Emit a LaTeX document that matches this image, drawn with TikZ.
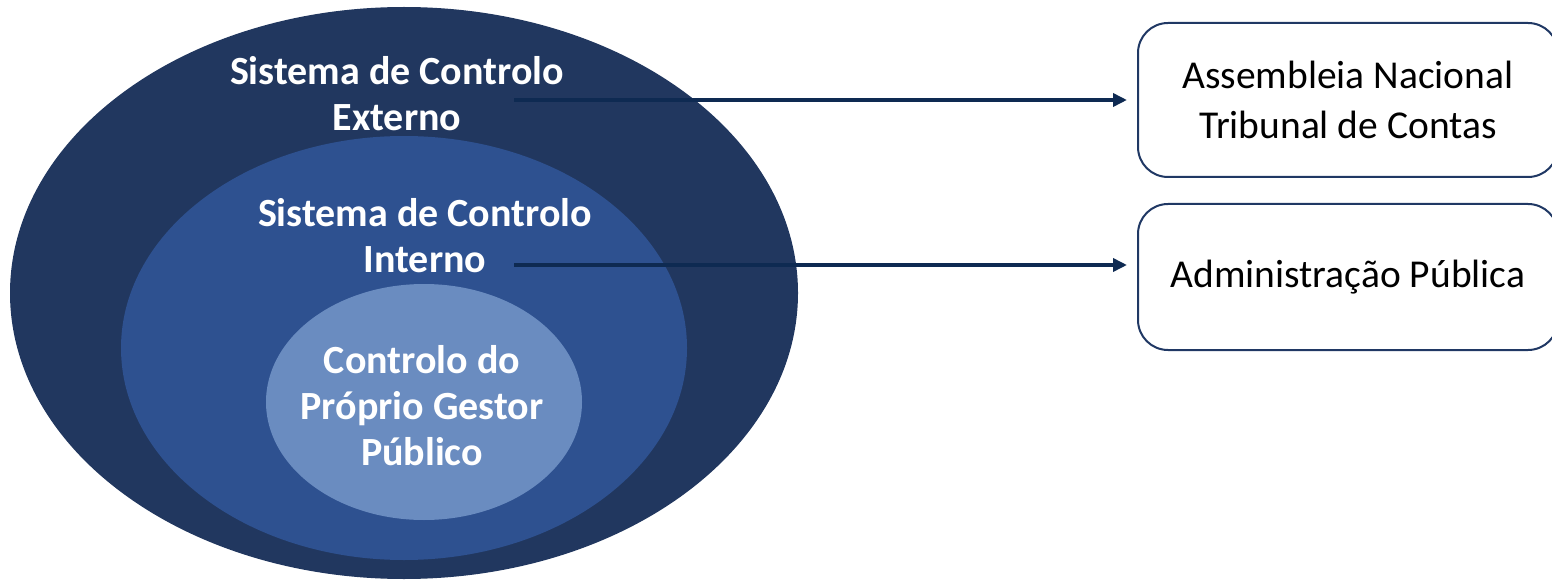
\documentclass[tikz,border=0pt]{standalone}
\usepackage{fontspec}
\setmainfont{Carlito}
\usetikzlibrary{arrows.meta}
\definecolor{outerblue}{HTML}{21375F}
\definecolor{midblue}{HTML}{2E5190}
\definecolor{innerblue}{HTML}{6A8CC0}
\definecolor{linkblue}{HTML}{0E2A52}
\definecolor{boxline}{HTML}{203864}
\begin{document}
\begin{tikzpicture}[x=1pt,y=-1pt,
  ringlabel/.style={text=white,align=center,font=\bfseries\fontsize{40}{46}\selectfont,inner sep=0pt},
  sidebox/.style={draw=boxline,line width=2pt,rounded corners=30pt,minimum width=420pt,align=center,
    font=\fontsize{39.5}{50}\selectfont,inner sep=0pt},
  link/.style={draw=linkblue,line width=3.5pt,shorten >=10pt,-{Triangle[length=14pt,width=13pt]}}]
\useasboundingbox (0,0) rectangle (1552,580);
% nested control systems
\fill[outerblue] (404,293) ellipse [x radius=394,y radius=286];
\fill[midblue] (404,348) ellipse [x radius=283,y radius=212];
\fill[innerblue] (424,402) ellipse [x radius=158,y radius=118];
\node[ringlabel] (ext) at (397,94) {Sistema de Controlo\\Externo};
\node[ringlabel] (int) at (425,236) {Sistema de Controlo\\Interno};
\node[ringlabel] (own) at (422,406) {Controlo do\\Próprio Gestor\\Público};
% responsible bodies
\node[sidebox,minimum height=154pt] (an) at (1348,100) {Assembleia Nacional\\Tribunal de Contas};
\node[sidebox,minimum height=146pt] (ap) at (1348,277) {Administração Pública};
\coordinate (extout) at (514,100);
\coordinate (intout) at (514,265);
\draw[link] (extout) -- (extout -| an.west);
\draw[link] (intout) -- (intout -| ap.west);
\end{tikzpicture}
\end{document}
